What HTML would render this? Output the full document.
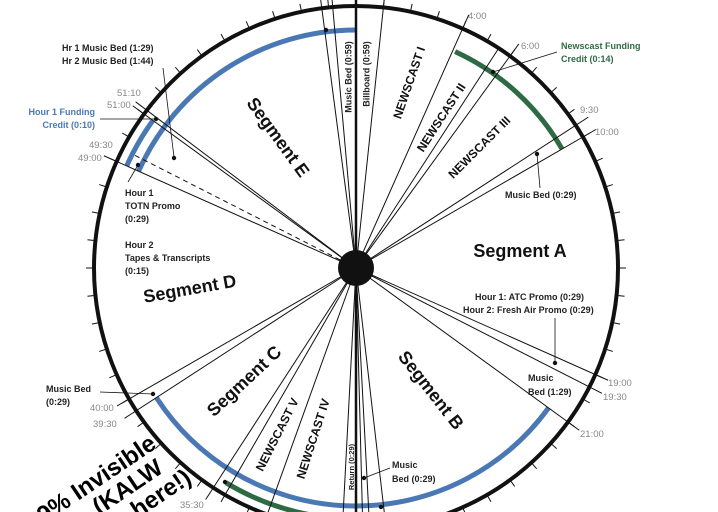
<!DOCTYPE html>
<html><head><meta charset="utf-8"><style>
html,body{margin:0;padding:0;background:#fff;width:718px;height:512px;overflow:hidden;}
svg{display:block;overflow:hidden}
text{font-family:"Liberation Sans",sans-serif;}
.b{font-weight:bold;fill:#222;font-size:9px}
.t{fill:#888;font-size:9.5px}
.seg{font-weight:bold;font-size:18px;fill:#111}
.nc{font-weight:bold;font-size:12px;fill:#111}
</style></head><body>
<svg id="s" width="718" height="512" viewBox="0 0 718 512" xmlns="http://www.w3.org/2000/svg">
<g id="g"></g>
<circle cx="356" cy="268" r="18" fill="#111"/>
<text class="seg" transform="translate(277,138) rotate(54)" text-anchor="middle" dominant-baseline="middle">Segment E</text>
<text class="seg" x="520" y="257" text-anchor="middle">Segment A</text>
<text class="seg" transform="translate(430,391) rotate(52)" text-anchor="middle" dominant-baseline="middle">Segment B</text>
<text class="seg" transform="translate(245,382) rotate(-43)" text-anchor="middle" dominant-baseline="middle">Segment C</text>
<text class="seg" transform="translate(190,290) rotate(-10)" text-anchor="middle" dominant-baseline="middle">Segment D</text>
<text class="nc" transform="translate(410,83) rotate(-71)" text-anchor="middle" dominant-baseline="middle">NEWSCAST I</text>
<text class="nc" transform="translate(442,118) rotate(-57)" text-anchor="middle" dominant-baseline="middle">NEWSCAST II</text>
<text class="nc" transform="translate(480,148) rotate(-45)" text-anchor="middle" dominant-baseline="middle">NEWSCAST III</text>
<text class="nc" transform="translate(278,435) rotate(-63)" text-anchor="middle" dominant-baseline="middle">NEWSCAST V</text>
<text class="nc" transform="translate(314,439) rotate(-72)" text-anchor="middle" dominant-baseline="middle">NEWSCAST IV</text>
<text class="b" transform="translate(349,77) rotate(-90)" text-anchor="middle" dominant-baseline="middle">Music Bed (0:59)</text>
<text class="b" transform="translate(367,74) rotate(-90)" text-anchor="middle" dominant-baseline="middle">Billboard (0:59)</text>
<text class="b" style="font-size:7.5px" transform="translate(352,467) rotate(-90)" text-anchor="middle" dominant-baseline="middle">Return (0:29)</text>
<text class="b" x="62" y="51">Hr 1 Music Bed (1:29)</text>
<text class="b" x="62" y="64">Hr 2 Music Bed (1:44)</text>
<text class="b" x="95" y="115" text-anchor="end" style="fill:#4a78b5">Hour 1 Funding</text>
<text class="b" x="95" y="128" text-anchor="end" style="fill:#4a78b5">Credit (0:10)</text>
<text class="b" x="125" y="196">Hour 1</text>
<text class="b" x="125" y="209">TOTN Promo</text>
<text class="b" x="125" y="222">(0:29)</text>
<text class="b" x="125" y="248">Hour 2</text>
<text class="b" x="125" y="261">Tapes &amp; Transcripts</text>
<text class="b" x="125" y="274">(0:15)</text>
<text class="b" x="46" y="392">Music Bed</text>
<text class="b" x="46" y="405">(0:29)</text>
<text class="b" x="392" y="468">Music</text>
<text class="b" x="392" y="482">Bed (0:29)</text>
<text class="b" x="528" y="381">Music</text>
<text class="b" x="528" y="395">Bed (1:29)</text>
<text class="b" x="475" y="300">Hour 1: ATC Promo (0:29)</text>
<text class="b" x="463" y="313">Hour 2: Fresh Air Promo (0:29)</text>
<text class="b" x="505" y="198">Music Bed (0:29)</text>
<text class="b" x="561" y="49" style="fill:#2e6b44">Newscast Funding</text>
<text class="b" x="561" y="62" style="fill:#2e6b44">Credit (0:14)</text>
<text class="t" x="468" y="19">4:00</text>
<text class="t" x="521" y="49">6:00</text>
<text class="t" x="580" y="113">9:30</text>
<text class="t" x="595" y="135">10:00</text>
<text class="t" x="608" y="386">19:00</text>
<text class="t" x="603" y="400">19:30</text>
<text class="t" x="580" y="437">21:00</text>
<text class="t" x="90" y="411">40:00</text>
<text class="t" x="93" y="427">39:30</text>
<text class="t" x="180" y="508">35:30</text>
<text class="t" x="117" y="96">51:10</text>
<text class="t" x="107" y="108">51:00</text>
<text class="t" x="89" y="148">49:30</text>
<text class="t" x="78" y="161">49:00</text>
<g transform="rotate(-34 150 450)" style="font-weight:bold;font-size:24px;fill:#000">
<text x="158" y="452" text-anchor="end">99% Invisible</text>
<text x="150" y="476" text-anchor="end">(KALW</text>
<text x="168" y="500" text-anchor="end">here!)</text>
</g>
</svg>
<script>
var C=[356,268],R=262,NS="http://www.w3.org/2000/svg",g=document.getElementById('g');
function P(t,r){var a=t*Math.PI/30;return [C[0]+r*Math.sin(a),C[1]-r*Math.cos(a)];}
function L(a,b,w,c,d){var e=document.createElementNS(NS,'line');e.setAttribute('x1',a[0]);e.setAttribute('y1',a[1]);e.setAttribute('x2',b[0]);e.setAttribute('y2',b[1]);e.setAttribute('stroke',c||'#111');e.setAttribute('stroke-width',w||1);if(d)e.setAttribute('stroke-dasharray',d);g.appendChild(e);}
function A(t1,t2,r,c,w){var p=P(t1,r),q=P(t2,r),la=((t2-t1+60)%60)>30?1:0;var e=document.createElementNS(NS,'path');e.setAttribute('d','M'+p[0]+' '+p[1]+' A'+r+' '+r+' 0 '+la+' 1 '+q[0]+' '+q[1]);e.setAttribute('fill','none');e.setAttribute('stroke',c);e.setAttribute('stroke-width',w);g.appendChild(e);}
function D(x,y){var e=document.createElementNS(NS,'circle');e.setAttribute('cx',x);e.setAttribute('cy',y);e.setAttribute('r',2.2);e.setAttribute('fill','#111');g.appendChild(e);}
for(var i=0;i<60;i++){L(P(i,R),P(i,R+8),1);}
A(49,60,238,'#4a78b5',5);
A(49,51,251,'#4a78b5',5);
A(4.1,10,238,'#2e6b44',5);
A(21,39.5,238,'#4a78b5',5);
A(29,35.2,251,'#2e6b44',5);
var c=document.createElementNS(NS,'circle');c.setAttribute('cx',C[0]);c.setAttribute('cy',C[1]);c.setAttribute('r',R);c.setAttribute('fill','none');c.setAttribute('stroke','#111');c.setAttribute('stroke-width',4);g.appendChild(c);
var sp=[[58.75,20],[59.15,20],[1,20],[4,15],[5.5,0],[6,15],[9.5,15],[10,15],[19,14],[19.5,14],[21,14],[28.9,0],[29.5,0],[29.75,0],[30.5,0],[33.3,0],[35,0],[35.5,14],[39.5,14],[40,14],[49,14],[51,14],[51.17,14]];
sp.forEach(function(s){L(C,P(s[0],R+s[1]),1);});
L(C,P(0,R+10),2.5);L(C,P(30,R+10),2.5);
L(C,P(49.5,251),1,'#111','5,4');
[[163,68,174,157],[100,119,155,119],[128,182,138,165],[557,52,493,72],[540,188,537,154],[555,318,555,362],[390,468,364,478],[100,392,153,394]].forEach(function(l){L([l[0],l[1]],[l[2],l[3]],0.8);});
[[174,158],[156,119],[138,165],[493,72],[537,154],[555,363],[364,478],[381,507],[153,394],[326,30],[225,482]].forEach(function(d){D(d[0],d[1]);});
</script>
</body></html>
